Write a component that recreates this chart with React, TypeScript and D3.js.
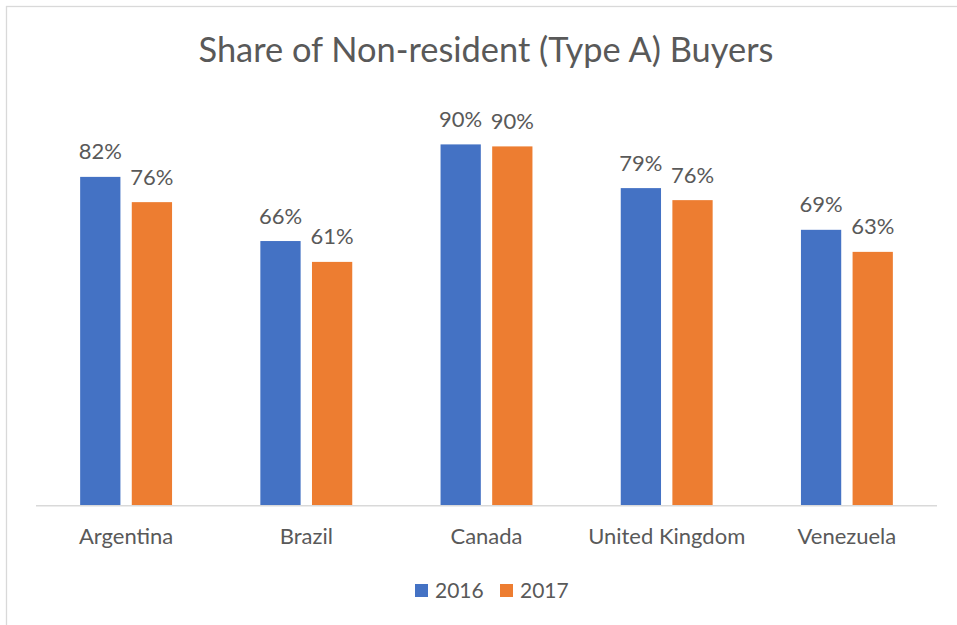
import React from "react";
import * as d3 from "d3";

const categories = ["Argentina", "Brazil", "Canada", "United Kingdom", "Venezuela"];
const seriesNames = ["2016", "2017"];
const values2016 = [0.82, 0.66, 0.901, 0.792, 0.688];
const values2017 = [0.757, 0.608, 0.896, 0.762, 0.633];
const seriesValues = [values2016, values2017];
const colors = ["#4472C4", "#ED7D31"];
const title = "Share of Non-resident (Type A) Buyers";

const W = 957;
const H = 625;
const FONT = "Lato, 'Open Sans', sans-serif";
const TEXT = "#595959";

export default function App() {
  const x = d3.scaleBand<string>().domain(categories).range([36, 937]).paddingInner(0).paddingOuter(0);
  const bw = x.bandwidth();
  const xSub = d3
    .scaleBand<string>()
    .domain(seriesNames)
    .range([bw * 0.245, bw * 0.755])
    .paddingInner(0.22);
  const y = d3.scaleLinear().domain([0, 1]).range([505.7, 104.7]);
  const fmt = d3.format(".0%");

  return (
    <div style={{ position: "absolute", left: 0, top: 0, width: W, height: H, background: "#fff" }}>
      <svg width={W} height={H} style={{ display: "block" }}>
        <rect x={0} y={0} width={W} height={H} fill="#fff" />
        <rect x={6.5} y={6.5} width={W + 10} height={H + 10} fill="none" stroke="#d9d9d9" strokeWidth={1.3} />
        <text
          x={486}
          y={61.5}
          textAnchor="middle"
          fontFamily={FONT}
          fontSize={34.4}
          fill={TEXT}
        >
          {title}
        </text>
        {categories.map((c, i) => (
          <g key={c}>
            {seriesNames.map((s, j) => {
              const v = seriesValues[j][i];
              const bx = (x(c) as number) + (xSub(s) as number);
              const by = y(v);
              return (
                <g key={s}>
                  <rect x={bx} y={by} width={xSub.bandwidth()} height={y(0) - by} fill={colors[j]} />
                  <text
                    x={bx + xSub.bandwidth() / 2}
                    y={by - 17.5}
                    textAnchor="middle"
                    fontFamily={FONT}
                    fontSize={22}
                    fill={TEXT}
                  >
                    {fmt(v)}
                  </text>
                </g>
              );
            })}
            <text
              x={(x(c) as number) + bw / 2}
              y={544}
              textAnchor="middle"
              fontFamily={FONT}
              fontSize={22}
              fill={TEXT}
            >
              {c}
            </text>
          </g>
        ))}
        <line x1={36} x2={937} y1={505.7} y2={505.7} stroke="#d9d9d9" strokeWidth={1.5} />
        {seriesNames.map((s, j) => {
          const lx = 415 + j * 85;
          return (
            <g key={s}>
              <rect x={lx} y={584} width={13} height={13} fill={colors[j]} />
              <text x={lx + 20} y={598} fontFamily={FONT} fontSize={21} fill={TEXT}>
                {s}
              </text>
            </g>
          );
        })}
      </svg>
    </div>
  );
}
